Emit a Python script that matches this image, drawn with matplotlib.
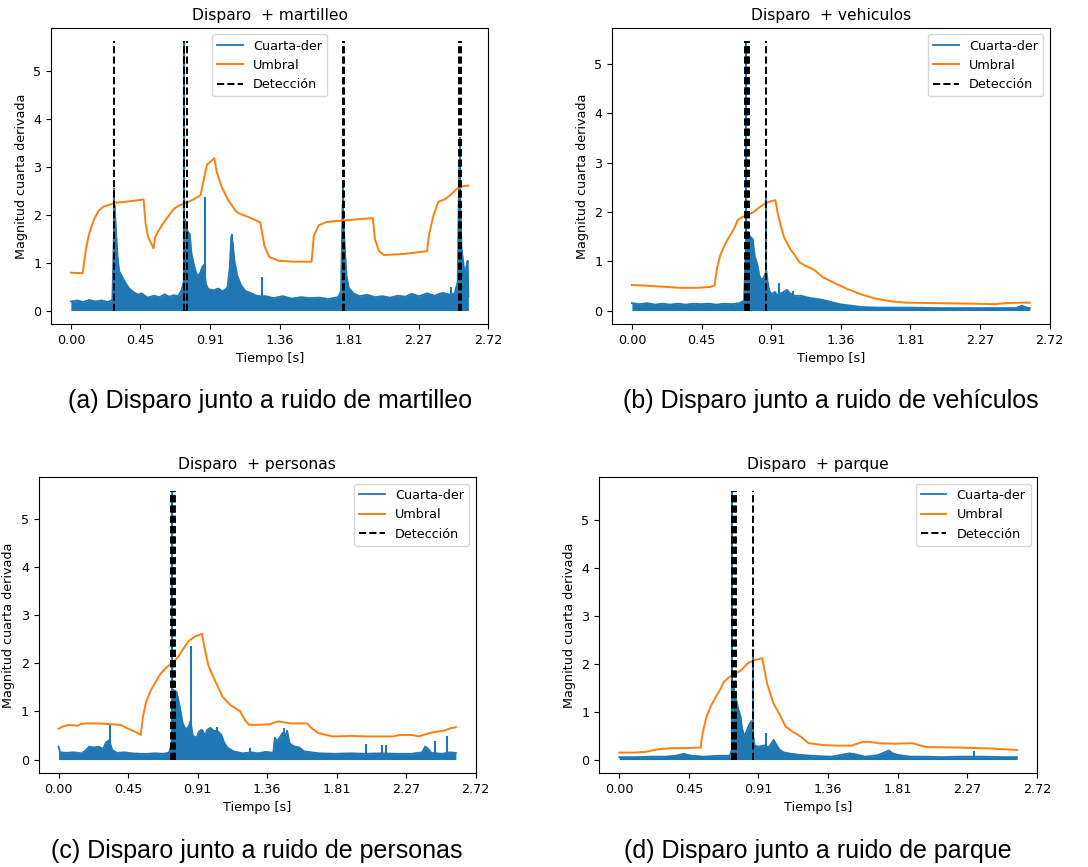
import numpy as np
import matplotlib
matplotlib.use("Agg")
import matplotlib.pyplot as plt

# Fourth-derivative magnitude (envelope of the dense signal), narrow peaks,
# adaptive threshold and detection instants for each noise scenario.

titles = ["Disparo  + martilleo", "Disparo  + vehiculos",
          "Disparo  + personas", "Disparo  + parque"]
captions = ["(a) Disparo junto a ruido de martilleo",
            "(b) Disparo junto a ruido de vehículos",
            "(c) Disparo junto a ruido de personas",
            "(d) Disparo junto a ruido de parque"]

duration = 2.59

# --- martilleo ---
env_a = [(0.00, 0.19), (0.04, 0.21), (0.08, 0.18), (0.12, 0.22), (0.16, 0.19), (0.20, 0.21),
         (0.24, 0.18), (0.27, 0.22), (0.285, 2.2), (0.295, 1.6), (0.305, 1.1), (0.315, 0.82),
         (0.335, 0.7), (0.355, 0.58), (0.38, 0.46), (0.41, 0.38), (0.44, 0.33), (0.46, 0.36),
         (0.50, 0.27), (0.54, 0.31), (0.58, 0.28), (0.61, 0.34), (0.64, 0.29), (0.67, 0.32),
         (0.70, 0.30), (0.72, 0.42), (0.735, 0.6), (0.745, 1.9), (0.76, 1.65), (0.775, 1.6),
         (0.785, 1.2), (0.80, 0.98), (0.82, 0.74), (0.84, 0.76), (0.855, 0.9), (0.865, 0.95),
         (0.88, 0.55), (0.895, 0.45), (0.93, 0.42), (0.96, 0.46), (0.99, 0.40), (1.02, 0.48),
         (1.035, 0.9), (1.045, 1.55), (1.055, 1.4), (1.065, 1.05), (1.085, 0.72), (1.11, 0.52),
         (1.14, 0.40), (1.17, 0.37), (1.20, 0.32), (1.23, 0.30), (1.27, 0.30), (1.32, 0.26),
         (1.38, 0.30), (1.44, 0.25), (1.50, 0.28), (1.56, 0.26), (1.62, 0.27), (1.68, 0.24),
         (1.74, 0.28), (1.76, 0.4), (1.77, 2.2), (1.785, 1.3), (1.795, 0.75), (1.81, 0.48),
         (1.84, 0.36), (1.88, 0.30), (1.93, 0.33), (1.98, 0.28), (2.03, 0.30), (2.08, 0.27),
         (2.13, 0.31), (2.18, 0.29), (2.22, 0.35), (2.27, 0.30), (2.32, 0.36), (2.37, 0.31),
         (2.42, 0.37), (2.47, 0.33), (2.50, 0.36), (2.52, 0.6), (2.53, 3.0), (2.545, 1.3),
         (2.555, 1.05), (2.565, 0.75), (2.575, 0.9), (2.585, 1.04), (2.59, 0.3)]
peaks_a = [(0.281, 2.55), (0.738, 5.62), (0.873, 2.37), (1.048, 1.6), (1.245, 0.7),
           (1.772, 2.6), (2.476, 0.5), (2.535, 3.62)]
umbral_a = [(0.0, 0.79), (0.077, 0.78), (0.098, 1.28), (0.118, 1.59), (0.15, 1.9), (0.18, 2.08),
            (0.212, 2.17), (0.243, 2.2), (0.285, 2.25), (0.378, 2.28), (0.474, 2.32), (0.486, 1.84),
            (0.503, 1.54), (0.538, 1.3), (0.55, 1.54), (0.586, 1.75), (0.627, 1.94), (0.673, 2.13),
            (0.71, 2.2), (0.752, 2.25), (0.793, 2.31), (0.845, 2.41), (0.866, 2.74), (0.887, 3.05),
            (0.935, 3.18), (0.949, 2.91), (0.98, 2.6), (1.022, 2.32), (1.074, 2.08), (1.094, 2.03),
            (1.167, 1.94), (1.234, 1.84), (1.261, 1.35), (1.292, 1.12), (1.354, 1.04), (1.458, 1.02),
            (1.568, 1.02), (1.583, 1.56), (1.614, 1.78), (1.666, 1.85), (1.77, 1.88), (1.967, 1.93),
            (1.981, 1.49), (2.008, 1.24), (2.039, 1.16), (2.164, 1.18), (2.32, 1.24), (2.334, 1.59),
            (2.361, 1.97), (2.393, 2.27), (2.434, 2.32), (2.465, 2.39), (2.517, 2.55), (2.559, 2.6),
            (2.59, 2.61)]
detect_a = [0.281, 0.736, 0.740, 0.758, 1.770, 1.780, 2.530, 2.540]

# --- vehiculos ---
env_b = [(0.0, 0.15), (0.05, 0.13), (0.1, 0.15), (0.15, 0.12), (0.2, 0.14), (0.25, 0.12),
         (0.3, 0.14), (0.35, 0.12), (0.4, 0.14), (0.45, 0.13), (0.5, 0.14), (0.55, 0.12),
         (0.6, 0.14), (0.65, 0.13), (0.7, 0.15), (0.73, 0.2), (0.745, 1.6), (0.77, 1.5),
         (0.786, 1.45), (0.80, 1.1), (0.818, 0.92), (0.83, 0.7), (0.845, 0.62), (0.86, 0.68),
         (0.875, 0.8), (0.885, 0.55), (0.895, 0.4), (0.91, 0.33), (0.93, 0.38), (0.95, 0.3),
         (0.97, 0.35), (0.99, 0.38), (1.01, 0.42), (1.03, 0.35), (1.06, 0.3), (1.1, 0.3),
         (1.14, 0.27), (1.17, 0.25), (1.2, 0.24), (1.25, 0.21), (1.3, 0.17), (1.35, 0.13),
         (1.4, 0.11), (1.45, 0.09), (1.5, 0.07), (1.6, 0.06), (1.8, 0.06), (2.0, 0.05),
         (2.2, 0.05), (2.4, 0.05), (2.5, 0.05), (2.54, 0.1), (2.56, 0.07), (2.59, 0.05)]
peaks_b = [(0.742, 5.46), (0.873, 2.3), (0.955, 0.55), (1.05, 0.4)]
umbral_b = [(0.0, 0.52), (0.115, 0.5), (0.219, 0.48), (0.323, 0.46), (0.428, 0.46), (0.511, 0.48),
            (0.538, 0.51), (0.553, 0.84), (0.574, 1.11), (0.605, 1.34), (0.636, 1.51), (0.668, 1.68),
            (0.688, 1.83), (0.72, 1.9), (0.761, 1.95), (0.793, 2.0), (0.824, 2.08), (0.865, 2.17),
            (0.907, 2.22), (0.934, 2.24), (0.949, 1.98), (0.97, 1.71), (0.991, 1.48), (1.032, 1.24),
            (1.064, 1.11), (1.09, 0.98), (1.136, 0.9), (1.189, 0.82), (1.241, 0.68), (1.324, 0.55),
            (1.408, 0.43), (1.491, 0.33), (1.575, 0.25), (1.679, 0.19), (1.783, 0.16), (1.992, 0.15),
            (2.2, 0.14), (2.367, 0.13), (2.43, 0.15), (2.534, 0.16), (2.59, 0.16)]
detect_b = [0.738, 0.746, 0.754, 0.762, 0.873]

# --- personas ---
env_c = [(0.0, 0.27), (0.01, 0.15), (0.05, 0.14), (0.1, 0.15), (0.15, 0.13), (0.18, 0.2),
         (0.2, 0.27), (0.23, 0.25), (0.26, 0.27), (0.29, 0.22), (0.31, 0.36), (0.33, 0.4),
         (0.35, 0.2), (0.38, 0.14), (0.43, 0.15), (0.48, 0.13), (0.53, 0.12), (0.58, 0.12),
         (0.63, 0.13), (0.68, 0.12), (0.72, 0.14), (0.735, 0.3), (0.75, 1.45), (0.77, 1.4),
         (0.79, 1.1), (0.81, 0.75), (0.83, 0.62), (0.85, 0.7), (0.86, 0.8), (0.875, 0.5),
         (0.9, 0.45), (0.915, 0.58), (0.935, 0.62), (0.955, 0.5), (0.97, 0.62), (0.99, 0.66),
         (1.01, 0.6), (1.04, 0.58), (1.06, 0.52), (1.08, 0.35), (1.1, 0.25), (1.14, 0.17),
         (1.2, 0.13), (1.26, 0.15), (1.3, 0.13), (1.35, 0.16), (1.4, 0.14), (1.41, 0.45),
         (1.425, 0.38), (1.44, 0.45), (1.46, 0.55), (1.475, 0.45), (1.49, 0.6), (1.505, 0.35),
         (1.52, 0.3), (1.54, 0.27), (1.57, 0.25), (1.6, 0.17), (1.65, 0.15), (1.7, 0.13),
         (1.8, 0.12), (1.9, 0.13), (2.0, 0.12), (2.1, 0.13), (2.2, 0.12), (2.3, 0.12),
         (2.37, 0.15), (2.39, 0.27), (2.41, 0.22), (2.43, 0.14), (2.5, 0.12), (2.55, 0.15),
         (2.59, 0.14)]
peaks_c = [(0.336, 0.72), (0.738, 5.58), (0.866, 2.35), (1.03, 0.67), (1.246, 0.24),
           (1.47, 0.65), (2.004, 0.33), (2.108, 0.31), (2.135, 0.3), (2.457, 0.38), (2.534, 0.49)]
umbral_c = [(0.0, 0.64), (0.031, 0.69), (0.073, 0.72), (0.125, 0.7), (0.145, 0.74), (0.187, 0.75),
            (0.27, 0.75), (0.353, 0.73), (0.405, 0.72), (0.447, 0.65), (0.498, 0.58), (0.536, 0.51),
            (0.55, 0.89), (0.571, 1.2), (0.602, 1.44), (0.633, 1.61), (0.665, 1.78), (0.706, 1.92),
            (0.748, 2.02), (0.779, 2.13), (0.82, 2.33), (0.852, 2.47), (0.893, 2.56), (0.935, 2.61),
            (0.951, 2.33), (0.976, 1.96), (1.018, 1.65), (1.07, 1.3), (1.121, 1.13), (1.184, 1.0),
            (1.215, 0.82), (1.242, 0.72), (1.288, 0.72), (1.371, 0.73), (1.433, 0.79), (1.516, 0.75),
            (1.62, 0.75), (1.651, 0.65), (1.693, 0.55), (1.786, 0.48), (1.911, 0.49), (2.015, 0.48),
            (2.181, 0.48), (2.223, 0.51), (2.306, 0.51), (2.347, 0.48), (2.43, 0.56), (2.513, 0.6),
            (2.555, 0.65), (2.59, 0.67)]
detect_c = [0.733, 0.743, 0.752, 0.762]

# --- parque ---
env_d = [(0.0, 0.05), (0.1, 0.05), (0.2, 0.06), (0.3, 0.06), (0.37, 0.08), (0.42, 0.12),
         (0.47, 0.08), (0.55, 0.06), (0.6, 0.07), (0.65, 0.08), (0.72, 0.08), (0.733, 0.2),
         (0.745, 1.5), (0.758, 1.3), (0.775, 1.05), (0.79, 0.9), (0.8, 0.65), (0.815, 0.48),
         (0.83, 0.6), (0.845, 0.72), (0.86, 0.8), (0.88, 0.3), (0.9, 0.27), (0.93, 0.28),
         (0.95, 0.3), (0.97, 0.25), (0.99, 0.33), (1.005, 0.41), (1.025, 0.3), (1.045, 0.2),
         (1.07, 0.15), (1.12, 0.12), (1.17, 0.1), (1.25, 0.08), (1.3, 0.07), (1.38, 0.06),
         (1.45, 0.1), (1.5, 0.13), (1.55, 0.1), (1.6, 0.06), (1.68, 0.09), (1.72, 0.14),
         (1.755, 0.19), (1.78, 0.13), (1.81, 0.1), (1.85, 0.08), (1.9, 0.06), (2.0, 0.06),
         (2.1, 0.05), (2.2, 0.06), (2.3, 0.06), (2.4, 0.06), (2.5, 0.05), (2.59, 0.05)]
peaks_d = [(0.737, 5.6), (0.871, 2.3), (0.956, 0.55), (2.31, 0.18)]
umbral_d = [(0.0, 0.145), (0.09, 0.145), (0.173, 0.16), (0.214, 0.19), (0.266, 0.22), (0.339, 0.235),
            (0.443, 0.24), (0.53, 0.25), (0.543, 0.55), (0.568, 0.89), (0.599, 1.13), (0.63, 1.31),
            (0.661, 1.48), (0.682, 1.62), (0.713, 1.71), (0.755, 1.78), (0.796, 1.87), (0.838, 2.01),
            (0.879, 2.07), (0.931, 2.11), (0.942, 1.93), (0.963, 1.58), (1.004, 1.17), (1.046, 0.93),
            (1.083, 0.69), (1.129, 0.58), (1.181, 0.48), (1.233, 0.34), (1.337, 0.3), (1.42, 0.29),
            (1.513, 0.29), (1.586, 0.37), (1.628, 0.37), (1.69, 0.34), (1.794, 0.33), (1.909, 0.34),
            (1.95, 0.3), (2.002, 0.26), (2.21, 0.25), (2.418, 0.23), (2.59, 0.2)]
detect_d = [0.733, 0.742, 0.751, 0.760, 0.872]

envelopes = [env_a, env_b, env_c, env_d]
peaks = [peaks_a, peaks_b, peaks_c, peaks_d]
umbrales = [umbral_a, umbral_b, umbral_c, umbral_d]
detections = [detect_a, detect_b, detect_c, detect_d]

# axes boxes in pixels: left, top, right, bottom
W, H = 1088, 867
boxes = [(51, 28, 488.3, 324), (612, 28, 1049.7, 324),
         (38.7, 477.3, 475.7, 773), (599.3, 477.3, 1037, 773)]
caption_y = [401, 401, 851, 851]
legend_loc = ["upper center", "upper right", "upper right", "upper right"]

plt.rcParams["font.family"] = "DejaVu Sans"
fig = plt.figure(figsize=(W / 100, H / 100), dpi=100)

xmax = duration * 1.05
xticks = np.linspace(0, xmax, 7)

for i in range(4):
    l, t, r, b = boxes[i]
    ax = fig.add_axes([l / W, 1 - b / H, (r - l) / W, (b - t) / H])

    et, ev = np.array(envelopes[i]).T
    pt, pv = np.array(peaks[i]).T
    ut, uv = np.array(umbrales[i]).T
    top = pv.max()

    ax.fill_between(et, 0, ev, color="C0", lw=0)
    ax.plot(et, ev, color="C0", lw=1.3, label="Cuarta-der")
    ax.vlines(pt, 0, pv, colors="C0", lw=1.5)
    ax.plot(ut, uv, color="C1", lw=1.4, label="Umbral")
    ax.vlines(detections[i], 0, top, colors="k", linestyles="--", lw=1.4,
              label="Detección")

    ax.set_xlim(-0.05 * duration, xmax)
    ax.set_ylim(-0.05 * top, top * 1.05)
    ax.set_xticks(xticks)
    ax.set_xticklabels([f"{v:.2f}" for v in xticks])
    ax.set_yticks([0, 1, 2, 3, 4, 5])
    ax.tick_params(labelsize=9.2)
    ax.set_xlabel("Tiempo [s]", fontsize=9.2)
    ax.set_ylabel("Magnitud cuarta derivada", fontsize=9.2)
    ax.set_title(titles[i], fontsize=11.2)
    ax.legend(loc=legend_loc[i], fontsize=9.2)

    fig.text((l + r) / 2 / W, 1 - caption_y[i] / H, captions[i],
             ha="center", va="center", fontsize=18, family="Liberation Sans")

fig.savefig("out.png", dpi=100)
